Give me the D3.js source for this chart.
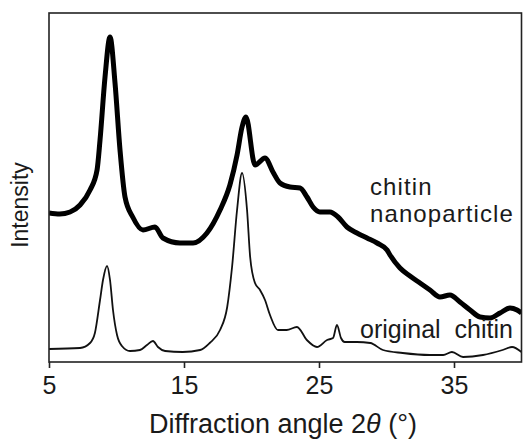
<!DOCTYPE html>
<html>
<head>
<meta charset="utf-8">
<script src="https://cdn.jsdelivr.net/npm/d3@7"></script>
<style>
  body { margin: 0; background: #fff; }
  svg { display: block; font-family: "Liberation Sans", Arial, sans-serif; }
</style>
</head>
<body>
<div id="viz-wrapper"></div>
<script>
var width = 523;
var height = 439;

// plot box (named so they don't clash with window.top)
var boxLeft = 49, boxRight = 521.5, boxTop = 13, boxBottom = 362;

// 2theta (deg) and intensity (a.u.)
var originalAngle = [5.0, 7.3, 8.04, 8.4, 8.78, 9.0, 9.3, 9.52, 9.74, 10.04, 10.4, 11.0, 11.74, 12.26, 12.7, 13.07, 13.6, 14.9, 16.2, 16.9, 17.67, 18.2, 18.56, 18.93, 19.3, 19.67, 19.9, 20.26, 20.63, 21.0, 21.37, 21.96, 22.6, 23.37, 24.1, 24.85, 25.6, 26.04, 26.33, 26.63, 26.9, 27.8, 28.8, 29.74, 31.2, 33.2, 34.2, 34.85, 35.67, 37.15, 38.6, 39.3, 40.0];
var originalIntensity = [13, 14, 19, 29, 62, 82, 96, 82, 52, 27, 16, 11, 12, 17, 21, 15, 11, 10, 12, 19, 32, 55, 95, 152, 189, 152, 105, 79, 72, 62, 47, 32, 32, 35, 22, 15, 22, 24, 37, 24, 20, 20, 19, 12, 9, 7, 7, 10, 5, 7, 12, 15, 10];

var nanoAngle = [5.0, 5.8, 6.56, 7.3, 8.04, 8.56, 8.78, 9.15, 9.52, 9.89, 10.26, 10.63, 11.2, 11.96, 12.85, 13.44, 14.7, 15.67, 16.7, 17.67, 18.4, 18.93, 19.3, 19.59, 20.26, 21.0, 21.59, 22.11, 22.85, 23.59, 24.11, 24.56, 25.07, 25.81, 26.41, 27.07, 27.81, 28.56, 29.3, 30.04, 30.26, 31.0, 31.74, 32.48, 33.22, 33.96, 34.7, 35.44, 36.19, 36.93, 37.67, 38.41, 39.15, 39.67, 40.0];
var nanoIntensity = [149, 148, 150, 157, 172, 192, 222, 285, 325, 279, 212, 165, 145, 132, 135, 124, 119, 119, 129, 152, 177, 207, 235, 245, 197, 204, 190, 179, 175, 174, 165, 155, 150, 150, 145, 135, 129, 124, 119, 112, 107, 94, 86, 79, 72, 65, 67, 60, 52, 45, 44, 49, 54, 52, 49];

var xTicks = [5, 15, 25, 35];

var viz = d3.select('#viz-wrapper').append('svg').attr('width', width).attr('height', height);

var x = d3.scaleLinear().domain([5, 40]).range([boxLeft, boxRight]);
var y = d3.scaleLinear().domain([0, 349]).range([boxBottom, boxTop]);

var line = d3.line()
  .x(function(d) { return x(d[0]); })
  .y(function(d) { return y(d[1]); })
  .curve(d3.curveMonotoneX);

viz.append('clipPath').attr('id', 'box').append('rect')
  .attr('x', boxLeft).attr('y', boxTop)
  .attr('width', boxRight - boxLeft).attr('height', boxBottom - boxTop);

var plot = viz.append('g').attr('clip-path', 'url(#box)');

// nanoparticle trace (thick, noisy)
plot.append('path')
  .datum(d3.zip(nanoAngle, nanoIntensity))
  .attr('d', line)
  .attr('fill', 'none')
  .attr('stroke', '#000')
  .attr('stroke-width', 5)
  .attr('stroke-linejoin', 'round');

// original chitin trace
plot.append('path')
  .datum(d3.zip(originalAngle, originalIntensity))
  .attr('d', line)
  .attr('fill', 'none')
  .attr('stroke', '#111')
  .attr('stroke-width', 1.8);

// frame
viz.append('rect')
  .attr('x', boxLeft).attr('y', boxTop)
  .attr('width', boxRight - boxLeft).attr('height', boxBottom - boxTop)
  .attr('fill', 'none').attr('stroke', '#222').attr('stroke-width', 1.6);

var xAxis = viz.append('g')
  .attr('transform', 'translate(0,' + boxBottom + ')')
  .call(d3.axisBottom(x).tickValues(xTicks).tickSizeInner(6).tickSizeOuter(0).tickPadding(8));

xAxis.select('.domain').remove();
xAxis.selectAll('line').attr('stroke', '#222').attr('stroke-width', 1.6);
xAxis.selectAll('text')
  .attr('font-size', 25)
  .attr('fill', '#1a1a1a')
  .attr('font-family', '"Liberation Sans", Arial, sans-serif');

// axis titles
var title = viz.append('text')
  .attr('x', 283).attr('y', 433)
  .attr('text-anchor', 'middle')
  .attr('font-size', 27)
  .attr('fill', '#1a1a1a');
title.append('tspan').text('Diffraction angle 2');
title.append('tspan').attr('font-style', 'italic').text('θ');
title.append('tspan').text(' (°)');

viz.append('text')
  .attr('transform', 'translate(28,205) rotate(-90)')
  .attr('text-anchor', 'middle')
  .attr('font-size', 23)
  .attr('fill', '#1a1a1a')
  .text('Intensity');

// series labels
viz.append('text').attr('x', 370).attr('y', 195).attr('font-size', 24).attr('letter-spacing', 1.1)
  .attr('fill', '#1a1a1a').text('chitin');
viz.append('text').attr('x', 370).attr('y', 222).attr('font-size', 24).attr('letter-spacing', 1.1)
  .attr('fill', '#1a1a1a').text('nanoparticle');
viz.append('text').attr('x', 360).attr('y', 338).attr('font-size', 25).attr('fill', '#1a1a1a')
  .style('white-space', 'pre').text('original  chitin');
</script>
</body>
</html>
